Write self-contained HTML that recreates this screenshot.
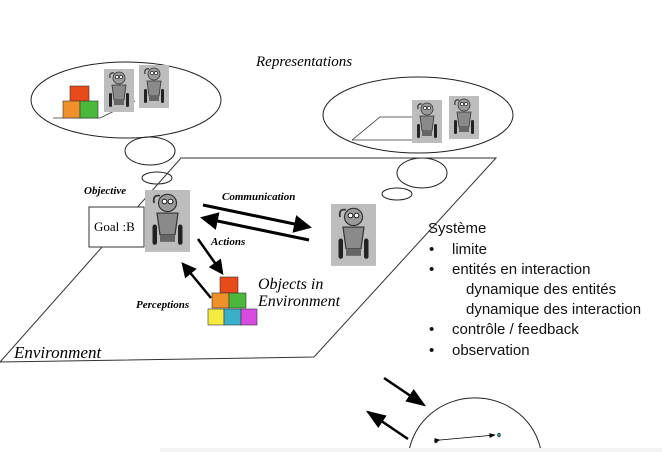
<!DOCTYPE html>
<html><head><meta charset="utf-8"><style>
html,body{margin:0;padding:0;background:#fff;width:662px;height:452px;overflow:hidden;}
svg{display:block;}
.s{font-family:"Liberation Serif",serif;font-style:italic;}
.t{font-family:"Liberation Sans","DejaVu Sans",sans-serif;font-size:15px;fill:#111;}
</style></head><body>
<svg width="662" height="452" viewBox="0 0 662 452" xmlns="http://www.w3.org/2000/svg">
<defs>
<marker id="ah" markerWidth="6" markerHeight="6" refX="5" refY="3" orient="auto" markerUnits="strokeWidth"><path d="M0,0 L6,3 L0,6 z" fill="#000"/></marker>
<marker id="sh" markerWidth="8" markerHeight="8" refX="7" refY="4" orient="auto" markerUnits="strokeWidth"><path d="M0,1 L8,4 L0,7 z" fill="#000"/></marker>
<g id="rob">
<rect x="0" y="0" width="30" height="43" fill="#bdbdbd"/>
<circle cx="15" cy="9" r="6" fill="#9a9a9a" stroke="#333" stroke-width="0.8"/>
<circle cx="13" cy="8" r="1.6" fill="#fff" stroke="#000" stroke-width="0.6"/><circle cx="17" cy="8" r="1.6" fill="#fff" stroke="#000" stroke-width="0.6"/>
<path d="M6,9 Q5,3 10,4" stroke="#333" fill="none" stroke-width="1.2"/>
<path d="M8,16 L22,16 L20,31 L10,31 z" fill="#8a8a8a" stroke="#333" stroke-width="0.8"/>
<rect x="5" y="24" width="3" height="14" rx="1.5" fill="#222"/><rect x="22" y="24" width="3" height="14" rx="1.5" fill="#222"/>
<rect x="10" y="31" width="10" height="5" fill="#666"/>
</g>
</defs>

<text x="256" y="66" class="s" font-size="15">Representations</text>

<ellipse cx="126" cy="100" rx="95" ry="38" fill="none" stroke="#222" stroke-width="1"/>
<ellipse cx="418" cy="115" rx="95" ry="38" fill="none" stroke="#222" stroke-width="1"/>
<ellipse cx="150" cy="151" rx="25" ry="14" fill="none" stroke="#222"/>
<ellipse cx="157" cy="178" rx="15" ry="6" fill="none" stroke="#222"/>
<ellipse cx="422" cy="173" rx="25" ry="15" fill="none" stroke="#222"/>
<ellipse cx="397" cy="194" rx="15" ry="6" fill="none" stroke="#222"/>

<path d="M53,118 L100,118 L135,101" fill="none" stroke="#333" stroke-width="0.8"/>
<rect x="70" y="86" width="19" height="16" fill="#e84a1a" stroke="#333" stroke-width="0.6"/>
<rect x="63" y="101" width="17" height="17" fill="#f0902a" stroke="#333" stroke-width="0.6"/>
<rect x="80" y="101" width="18" height="17" fill="#4ab83a" stroke="#333" stroke-width="0.6"/>
<use href="#rob" transform="translate(104,69)"/>
<use href="#rob" transform="translate(139,65)"/>

<path d="M352,140 L414,140 M352,140 L380,117 L414,117" fill="none" stroke="#333" stroke-width="0.8"/>
<use href="#rob" transform="translate(412,100)"/>
<use href="#rob" transform="translate(449,96)"/>

<polygon points="181,158 496,158 314,357 0,362" fill="none" stroke="#333" stroke-width="1"/>

<text x="84" y="194" class="s" font-size="11" font-weight="bold">Objective</text>
<rect x="89" y="207" width="55" height="40" fill="#fff" stroke="#333"/>
<text x="94" y="231" font-family="Liberation Serif,serif" font-size="13">Goal :B</text>
<g transform="translate(145,190) scale(1.5,1.44)"><use href="#rob"/></g>
<g transform="translate(331,204) scale(1.5,1.44)"><use href="#rob"/></g>

<text x="222" y="200" class="s" font-size="11" font-weight="bold">Communication</text>
<text x="211" y="245" class="s" font-size="11" font-weight="bold">Actions</text>
<text x="136" y="308" class="s" font-size="11" font-weight="bold">Perceptions</text>

<line x1="203" y1="205" x2="309" y2="227" stroke="#000" stroke-width="3" marker-end="url(#ah)"/>
<line x1="309" y1="240" x2="203" y2="218" stroke="#000" stroke-width="3" marker-end="url(#ah)"/>
<line x1="198" y1="239" x2="222" y2="273" stroke="#000" stroke-width="2.5" marker-end="url(#ah)"/>
<line x1="211" y1="298" x2="183" y2="264" stroke="#000" stroke-width="2.5" marker-end="url(#ah)"/>

<rect x="220" y="277" width="18" height="16" fill="#e84a1a" stroke="#333" stroke-width="0.6"/>
<rect x="212" y="293" width="17" height="15" fill="#f0902a" stroke="#333" stroke-width="0.6"/>
<rect x="229" y="293" width="17" height="15" fill="#4ab83a" stroke="#333" stroke-width="0.6"/>
<rect x="208" y="309" width="16" height="16" fill="#f4ea40" stroke="#333" stroke-width="0.6"/>
<rect x="224" y="309" width="17" height="16" fill="#3ab0c8" stroke="#333" stroke-width="0.6"/>
<rect x="241" y="309" width="16" height="16" fill="#d84ae0" stroke="#333" stroke-width="0.6"/>

<text x="258" y="289" class="s" font-size="16">Objects in</text>
<text x="258" y="306" class="s" font-size="16">Environment</text>
<text x="14" y="358" class="s" font-size="17">Environment</text>

<text x="428" y="233" class="t">Système</text>
<text x="429" y="254" class="t">•</text><text x="452" y="254" class="t">limite</text>
<text x="429" y="274" class="t">•</text><text x="452" y="274" class="t">entités en interaction</text>
<text x="466" y="294" class="t">dynamique des entités</text>
<text x="466" y="314" class="t">dynamique des interaction</text>
<text x="429" y="334" class="t">•</text><text x="452" y="334" class="t">contrôle / feedback</text>
<text x="429" y="355" class="t">•</text><text x="452" y="355" class="t">observation</text>

<line x1="384" y1="378" x2="424" y2="405" stroke="#000" stroke-width="2.5" marker-end="url(#sh)"/>
<line x1="408" y1="439" x2="368" y2="412" stroke="#000" stroke-width="2.5" marker-end="url(#sh)"/>
<path d="M408.8,452 A67,64 0 0 1 541.2,452" fill="none" stroke="#222"/>
<ellipse cx="436" cy="441" rx="1.5" ry="2" fill="#3a9a8a" stroke="#000" stroke-width="0.5"/>
<ellipse cx="499" cy="435" rx="1.5" ry="2" fill="#3a9a8a" stroke="#000" stroke-width="0.5"/>
<line x1="440" y1="440" x2="495" y2="435" stroke="#000" stroke-width="0.8" marker-start="url(#sh)" marker-end="url(#sh)"/>
<rect x="160" y="448" width="502" height="4" fill="#f4f4f4"/>
</svg>
</body></html>
